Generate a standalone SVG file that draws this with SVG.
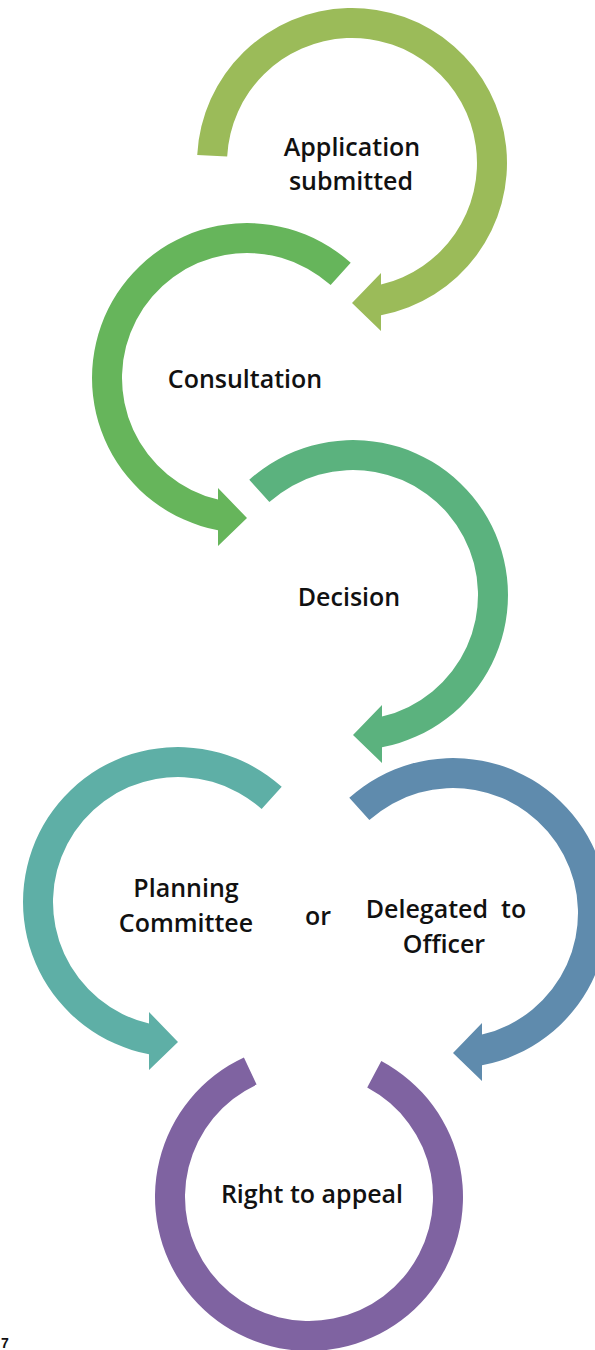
<svg xmlns="http://www.w3.org/2000/svg" width="595" height="1350" viewBox="0 0 595 1350">
<style>
.lbl{font-family:"Open Sans","Liberation Sans",sans-serif;font-size:25px;font-weight:600;fill:#111;text-anchor:middle}
.pg{font-family:"Liberation Sans",sans-serif;font-size:14px;font-weight:bold;fill:#111}
</style>
<rect width="595" height="1350" fill="#fff"/>
<g id="node-application">
<path fill="#9BBB59" d="M197.21,154.89 A155,155 0 1 1 381,315.26 L381,331 L352,303 L381,273 L381,284.59 A125,125 0 1 0 227.17,156.46 Z"/>
<text class="lbl" x="352" y="156">Application</text>
<text class="lbl" x="351" y="190">submitted</text>
</g>
<g id="node-consultation">
<path fill="#66B55B" d="M350.72,262.81 A155,155 0 1 0 218,530.26 L218,546 L247,518 L218,488 L218,499.59 A125,125 0 1 1 330.64,285.11 Z"/>
<text class="lbl" x="245" y="388">Consultation</text>
</g>
<g id="node-decision">
<path fill="#5BB27E" d="M249.28,479.81 A155,155 0 1 1 382,747.26 L382,763 L353,735 L382,705 L382,716.59 A125,125 0 1 0 269.36,502.11 Z"/>
<text class="lbl" x="349" y="606">Decision</text>
</g>
<g id="node-planning">
<path fill="#5EAFA6" d="M281.72,786.81 A155,155 0 1 0 149,1054.26 L149,1070 L178,1042 L149,1012 L149,1023.59 A125,125 0 1 1 261.64,809.11 Z"/>
<text class="lbl" x="186" y="897">Planning</text>
<text class="lbl" x="186" y="932">Committee</text>
</g>
<g id="node-or">
<text class="lbl" x="318" y="925">or</text>
</g>
<g id="node-delegated">
<path fill="#5F8BAD" d="M349.28,797.81 A155,155 0 1 1 482,1065.26 L482,1081 L453,1053 L482,1023 L482,1034.59 A125,125 0 1 0 369.36,820.11 Z"/>
<text class="lbl" x="446" y="918" xml:space="preserve">Delegated  to</text>
<text class="lbl" x="444" y="953">Officer</text>
</g>
<g id="node-appeal">
<path fill="#7F63A1" d="M381.3,1061.03 A154,154 0 1 1 243.92,1057.43 L256.6,1084.62 A124,124 0 1 0 367.21,1087.51 Z"/>
<text class="lbl" x="312" y="1203">Right to appeal</text>
</g>
<g id="connectors"></g>
<text class="pg" x="1" y="1348">7</text>
</svg>
